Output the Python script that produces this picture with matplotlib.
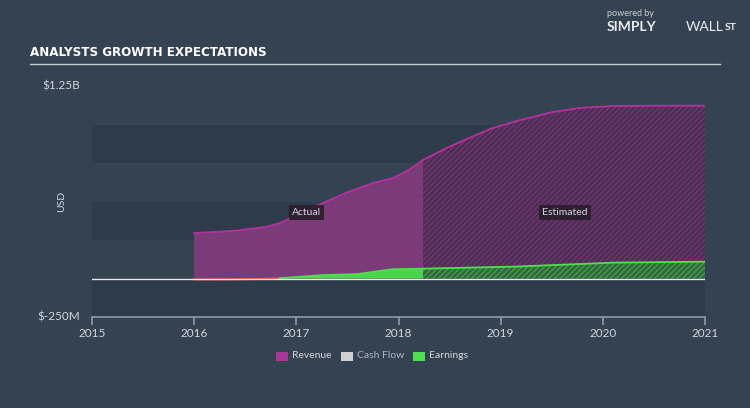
import numpy as np
import matplotlib
matplotlib.use("Agg")
import matplotlib.pyplot as plt
from matplotlib.patches import Rectangle
from matplotlib import font_manager

# values (USD millions)
rev_years = [2016.0, 2016.4, 2016.7, 2016.84, 2017.0, 2017.26, 2017.5, 2017.75, 2017.95, 2018.1, 2018.24]
rev_vals = [295, 310, 335, 360, 410, 490, 560, 620, 653, 705, 770]
rev_est_years = [2018.24, 2018.47, 2018.7, 2018.92, 2019.2, 2019.51, 2019.77, 2020.1, 2020.5, 2021.0]
rev_est_vals = [770, 847, 915, 977, 1030, 1081, 1107, 1120, 1122, 1122]

earn_years = [2016.0, 2016.4, 2016.7, 2016.84, 2017.26, 2017.6, 2017.94, 2018.24]
earn_vals = [-6, -5, -2, 2, 22, 29, 60, 64]
earn_est_years = [2018.24, 2019.13, 2019.77, 2020.1, 2021.0]
earn_est_vals = [64, 77, 94, 103, 109]

legend_labels = ["Revenue", "Cash Flow", "Earnings"]
x_ticks = [2015, 2016, 2017, 2018, 2019, 2020, 2021]

bg = "#344252"
band = "#2e3b4a"
rev_line = "#b5329d"
rev_fill = "#7b3a78"
earn_line = "#4fe04f"
txt = "#d0d6dc"

plt.rcParams["hatch.linewidth"] = 0.5
plt.rcParams["font.family"] = ["Lato", "DejaVu Sans"]

# look for a condensed face for the title
title_font = None
for f in font_manager.findSystemFonts():
    name = f.lower()
    if "condensed" in name and "bold" in name and "oblique" not in name and "dejavusans" in name.replace("-", ""):
        title_font = font_manager.FontProperties(fname=f, size=9.5)
        break
if title_font is None:
    title_font = font_manager.FontProperties(family="DejaVu Sans", weight="bold", size=8.5)

fig = plt.figure(figsize=(7.5, 4.08), dpi=100, facecolor=bg)
ax = fig.add_axes([92 / 750, 1 - 317 / 408, 613 / 750, 231 / 408])
ax.set_facecolor(bg)
ax.set_xlim(2015, 2021)
ax.set_ylim(-250, 1250)

# horizontal bands
for lo in [-250, 250, 750]:
    ax.axhspan(lo, lo + 250, color=band, lw=0, zorder=0)

# actual revenue
ax.fill_between(rev_years, 0, rev_vals, facecolor=rev_fill, lw=0, zorder=2)
ax.plot(rev_years, rev_vals, color=rev_line, lw=1.3, zorder=4)
# estimated revenue
ax.fill_between(rev_est_years, 0, rev_est_vals, facecolor="#4d2f55", edgecolor="#93378a",
                hatch="//////", lw=0, zorder=2)
ax.plot(rev_est_years, rev_est_vals, color=rev_line, lw=1.3, zorder=4)

# earnings
e = np.array(earn_vals)
ax.fill_between(earn_years, 0, e, where=e >= 0, facecolor="#4cd44c", lw=0, zorder=3, interpolate=True)
ax.plot(earn_years[:4], earn_vals[:4], color="#e04a3a", lw=1.5, zorder=5)
ax.plot(earn_years[3:], earn_vals[3:], color=earn_line, lw=1.3, zorder=5)
ax.fill_between(earn_est_years, 0, earn_est_vals, facecolor="#336a3e", edgecolor="#4cc84c",
                hatch="//////", lw=0, zorder=3)
ax.plot(earn_est_years, earn_est_vals, color=earn_line, lw=1.3, zorder=5)

# zero line
ax.axhline(0, color="#e6e8ea", lw=1.0, zorder=6)

for s in ["top", "right", "left"]:
    ax.spines[s].set_visible(False)
ax.spines["bottom"].set_color("#8d9cab")
ax.spines["bottom"].set_linewidth(1.2)
ax.set_xticks(x_ticks)
ax.set_xticklabels([str(t) for t in x_ticks])
ax.tick_params(axis="x", colors="#8d9cab", length=6, width=1.2, labelcolor=txt,
               labelsize=8.5, pad=2)
ax.set_yticks([])

ax.text(-0.02, 1.0, "$1.25B", transform=ax.transAxes, ha="right", va="center",
        color=txt, fontsize=8.5)
ax.text(-0.02, 0.0, "$-250M", transform=ax.transAxes, ha="right", va="center",
        color=txt, fontsize=8.5)
ax.text(-0.05, 0.5, "USD", transform=ax.transAxes, ha="center", va="center",
        rotation=90, color=txt, fontsize=7.5)

box = dict(boxstyle="square,pad=0.3", facecolor="#2a1e2c", edgecolor="none", alpha=0.9)
ax.text(2017.1, 430, "Actual", ha="center", va="center", color=txt, fontsize=7.5, bbox=box, zorder=8)
ax.text(2019.63, 430, "Estimated", ha="center", va="center", color=txt, fontsize=7.5, bbox=box, zorder=8)

# title and rule
fig.text(30 / 750, 1 - 53 / 408, "ANALYSTS GROWTH EXPECTATIONS", color="white",
         fontproperties=title_font, va="center")
fig.add_artist(plt.Line2D([30 / 750, 720 / 750], [1 - 64 / 408] * 2, color="#c4ccd4", lw=1))

# brand
fig.text(607 / 750, 1 - 14 / 408, "powered by", color="#c8ced4", fontsize=6.5, va="center")
fig.text(607 / 750, 1 - 27 / 408, "SIMPLY", color="#e8ecef", fontsize=10, fontweight="bold", va="center")
fig.text(686 / 750, 1 - 27 / 408, "WALL", color="#e8ecef", fontsize=10, va="center")
fig.text(725 / 750, 1 - 27 / 408, "ST", color="#e8ecef", fontsize=7.5, fontweight="bold", va="center")

# legend
leg_colors = ["#a8379a", "#cfcfcf", "#4fe04f"]
leg_x = [276, 341, 413]
for lab, c, x in zip(legend_labels, leg_colors, leg_x):
    fig.add_artist(Rectangle((x / 750, 1 - 361 / 408), 12 / 750, 9 / 408,
                             transform=fig.transFigure, facecolor=c, edgecolor="none"))
    fig.text((x + 16) / 750, 1 - 356 / 408, lab, color="#aab4bf" if lab == "Cash Flow" else txt,
             fontsize=7.5, va="center")

fig.savefig("out.png", dpi=100, facecolor=bg)
